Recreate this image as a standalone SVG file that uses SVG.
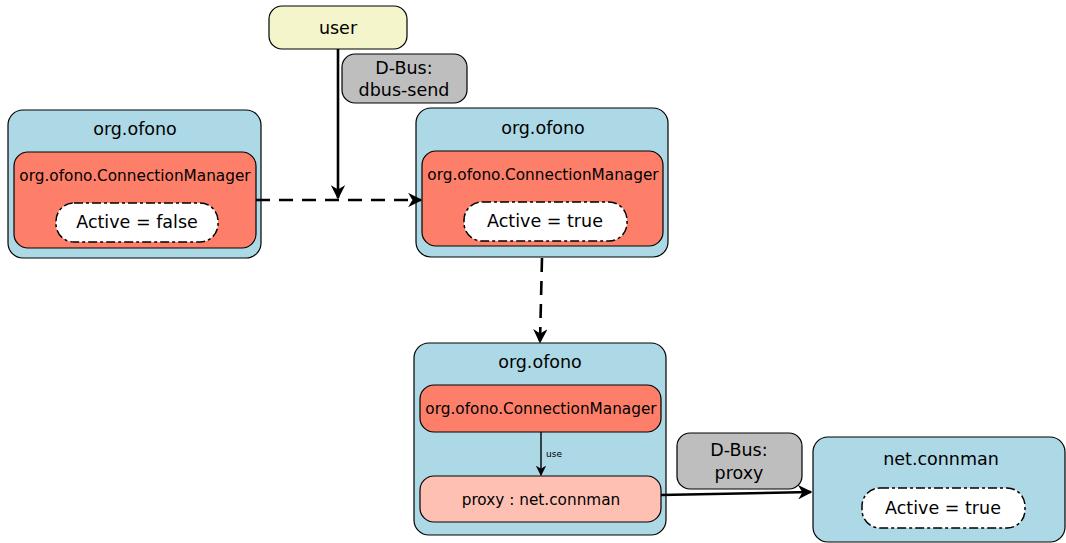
<svg xmlns="http://www.w3.org/2000/svg" width="1066" height="543" viewBox="0 0 1066 543">
  <defs>
    <style>
      text { font-family: "DejaVu Sans", "Liberation Sans", sans-serif; fill: #000; text-anchor: middle; }
      .svc { fill: #add8e6; stroke: #000; stroke-width: 1.2; }
      .iface { fill: #fd7f6a; stroke: #000; stroke-width: 1.2; }
      .proxy { fill: #ffc0b4; stroke: #000; stroke-width: 1.2; }
      .prop { fill: #fff; stroke: #000; stroke-width: 1.5; stroke-dasharray: 9 3 3 3; }
      .user { fill: #f5f5cc; stroke: #000; stroke-width: 1.2; }
      .note { fill: #bebebe; stroke: #000; stroke-width: 1.2; }
      .t16 { font-size: 17.5px; }
      .t14 { font-size: 15.3px; }
      .edge { fill: none; stroke: #000; stroke-width: 2.6; }
      .dash { stroke-dasharray: 14 9; }
      .thin { fill: none; stroke: #000; stroke-width: 1.4; }
    </style>
    <marker id="arr" viewBox="0 0 10 10" refX="9" refY="5" markerWidth="5.5" markerHeight="5.5" orient="auto" markerUnits="strokeWidth">
      <path d="M0,0 L10,5 L0,10 L3,5 Z" fill="#000"/>
    </marker>
    <marker id="arrs" viewBox="0 0 10 10" refX="9" refY="5" markerWidth="7.5" markerHeight="7.5" orient="auto" markerUnits="strokeWidth">
      <path d="M0,0 L10,5 L0,10 L3,5 Z" fill="#000"/>
    </marker>
  </defs>

  <!-- user -->
  <g id="user">
    <rect class="user" x="269" y="6" width="138" height="43" rx="13"/>
    <text class="t16" x="338" y="34">user</text>
  </g>

  <g id="note-dbus-send">
    <rect class="note" x="342" y="54" width="125" height="49" rx="13"/>
    <text class="t16" x="404" y="74">D-Bus:</text>
    <text class="t16" x="404" y="96">dbus-send</text>
  </g>

  <!-- ofono before activation -->
  <g id="ofono-before">
    <rect class="svc" x="8" y="110" width="253" height="148" rx="15"/>
    <text class="t16" x="135" y="135">org.ofono</text>
    <rect class="iface" x="14" y="152" width="242" height="96" rx="14"/>
    <text class="t14" x="135" y="181">org.ofono.ConnectionManager</text>
    <rect class="prop" x="56" y="203" width="162" height="39" rx="18"/>
    <text class="t16" x="137" y="228">Active = false</text>
  </g>

  <!-- ofono after activation -->
  <g id="ofono-after">
    <rect class="svc" x="416" y="108" width="252" height="149" rx="15"/>
    <text class="t16" x="543" y="134">org.ofono</text>
    <rect class="iface" x="422" y="151" width="241" height="95" rx="14"/>
    <text class="t14" x="543" y="180">org.ofono.ConnectionManager</text>
    <rect class="prop" x="464" y="202" width="163" height="39" rx="18"/>
    <text class="t16" x="545" y="227">Active = true</text>
  </g>

  <!-- ofono using connman proxy -->
  <g id="ofono-proxy">
    <rect class="svc" x="414" y="343" width="252" height="192" rx="15"/>
    <text class="t16" x="540" y="368">org.ofono</text>
    <rect class="iface" x="420" y="385" width="241" height="47" rx="14"/>
    <text class="t14" x="541" y="414">org.ofono.ConnectionManager</text>
    <rect class="proxy" x="420" y="476" width="241" height="46" rx="14"/>
    <text class="t14" x="541" y="505">proxy : net.connman</text>
  </g>

  <g id="note-dbus-proxy">
    <rect class="note" x="677" y="433" width="125" height="56" rx="13"/>
    <text class="t16" x="739" y="456">D-Bus:</text>
    <text class="t16" x="739" y="479">proxy</text>
  </g>

  <!-- connman -->
  <g id="connman">
    <rect class="svc" x="813" y="437" width="252" height="105" rx="15"/>
    <text class="t16" x="941" y="465">net.connman</text>
    <rect class="prop" x="862" y="488" width="163" height="40" rx="18"/>
    <text class="t16" x="943" y="514">Active = true</text>
  </g>

  <!-- connectors, drawn on top of the boxes -->
  <g id="connectors">
    <path class="edge" d="M338,49 L338,198" marker-end="url(#arr)"/>
    <path class="edge dash" d="M256,200 L421,200" marker-end="url(#arr)"/>
    <path class="edge dash" d="M542,258 L540,342" marker-end="url(#arr)"/>
    <path class="thin" d="M541,432 L541,475" marker-end="url(#arrs)"/>
    <text x="554" y="457" style="font-size:9px">use</text>
    <path class="edge" d="M661,495 L811,492" marker-end="url(#arr)"/>
  </g>
</svg>
